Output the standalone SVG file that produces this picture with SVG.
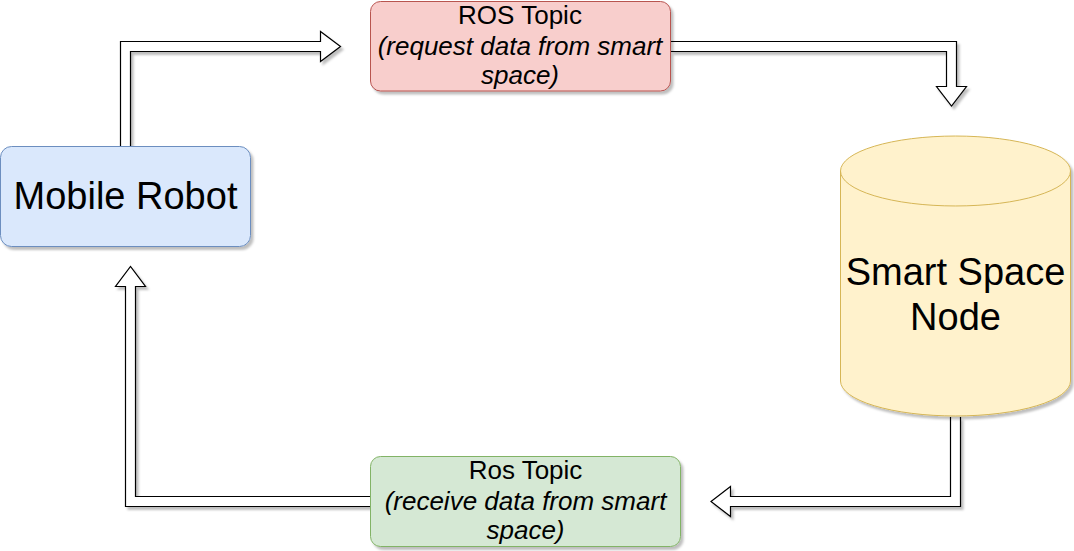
<svg xmlns="http://www.w3.org/2000/svg" width="1074" height="551" viewBox="0 0 1074 551">
<defs>
<filter id="sh" x="-10%" y="-10%" width="130%" height="130%">
<feDropShadow dx="2.5" dy="3" stdDeviation="1" flood-color="#000" flood-opacity="0.25"/>
</filter>
</defs>
<style>
.t{font-family:"Liberation Sans",Arial,sans-serif;fill:#000;text-anchor:middle}
.s{font-size:26px}
.b{font-size:38px}
.i{font-style:italic}
.arr{fill:#fff;stroke:#000;stroke-width:1.2;stroke-linejoin:miter}
</style>
<g id="connectors" filter="url(#sh)">
<path class="arr" d="M120.5,146 L120.5,41.5 L320.5,41.5 L320.5,31.5 L340.5,46.5 L320.5,61.5 L320.5,51.5 L130.5,51.5 L130.5,146"/>
<path class="arr" d="M671,41.5 L956.5,41.5 L956.5,86.5 L966.5,86.5 L951.5,106 L936.5,86.5 L946.5,86.5 L946.5,51.5 L671,51.5"/>
<path class="arr" d="M960.5,417 L960.5,506.5 L730.5,506.5 L730.5,516.5 L711,501.5 L730.5,486.5 L730.5,496.5 L950.5,496.5 L950.5,417"/>
<path class="arr" d="M370.5,506.5 L125.5,506.5 L125.5,286.5 L115.5,286.5 L130.5,266.5 L145.5,286.5 L135.5,286.5 L135.5,496.5 L370.5,496.5"/>
</g>
<g id="mobile-robot">
<rect x="0.5" y="146.5" width="250" height="100" rx="11" fill="#dae8fc" stroke="#6c8ebf" filter="url(#sh)"/>
<text class="t b" x="125.5" y="209">Mobile Robot</text>
</g>
<g id="ros-topic-request">
<rect x="370.5" y="1.5" width="300" height="89.5" rx="10" fill="#f8cecc" stroke="#b85450" filter="url(#sh)"/>
<text class="t s" x="520" y="24">ROS Topic</text>
<text class="t s i" x="520" y="54.5">(request data from smart</text>
<text class="t s i" x="520" y="84">space)</text>
</g>
<g id="smart-space-node">
<path d="M840.5,171 A115,35 0 0 1 1070.5,171 L1070.5,381 A115,35 0 0 1 840.5,381 Z" fill="#fff2cc" stroke="#d6b656" filter="url(#sh)"/>
<path d="M840.5,171 A115,35 0 0 0 1070.5,171" fill="none" stroke="#d6b656"/>
<text class="t b" x="955.5" y="285">Smart Space</text>
<text class="t b" x="955.5" y="330">Node</text>
</g>
<g id="ros-topic-receive">
<rect x="370.5" y="456.5" width="310" height="90" rx="10" fill="#d5e8d4" stroke="#82b366" filter="url(#sh)"/>
<text class="t s" x="525.5" y="479">Ros Topic</text>
<text class="t s i" x="525.5" y="509.5">(receive data from smart</text>
<text class="t s i" x="525.5" y="539">space)</text>
</g>
</svg>
